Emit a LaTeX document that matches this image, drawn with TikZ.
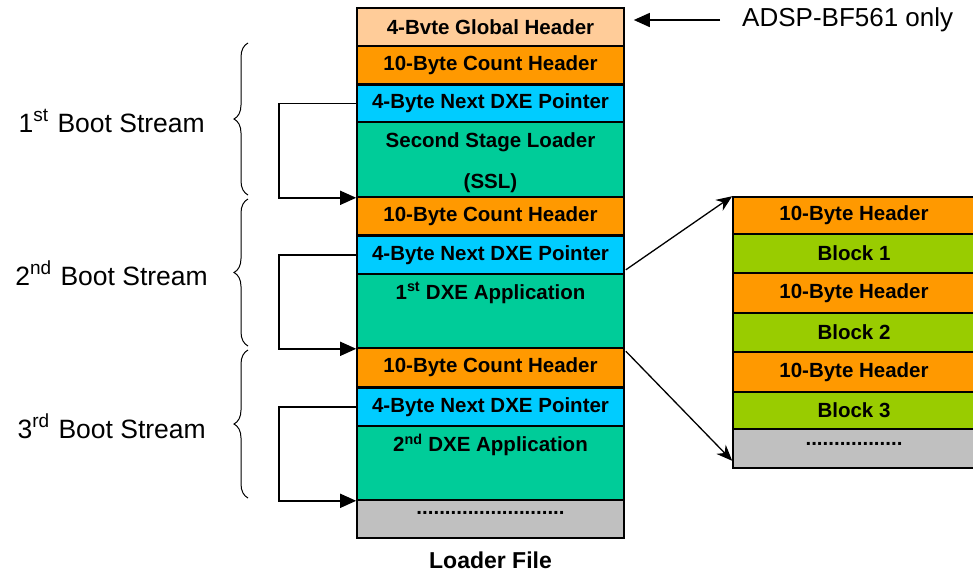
\documentclass[tikz,border=0pt]{standalone}
\usepackage{fontspec}
\setmainfont{Liberation Sans}
\usetikzlibrary{arrows.meta,decorations.pathreplacing,calc}
\definecolor{peach}{HTML}{FFCC99}
\definecolor{orng}{HTML}{FF9900}
\definecolor{cyn}{HTML}{00CCFF}
\definecolor{teal2}{HTML}{00CC99}
\definecolor{gry}{HTML}{C0C0C0}
\definecolor{lime2}{HTML}{99CC00}
\newcommand\mysup[1]{\raisebox{0.42em}{\fontsize{19}{19}\selectfont #1}\hspace{2pt}}
\begin{document}
\begin{tikzpicture}[x=1pt,y=-1pt,
  box/.style={draw=black, line width=1.6pt, inner sep=0pt, minimum width=267pt, font=\fontsize{20.5}{24}\selectfont\bfseries},
  rbox/.style={draw=black, line width=1.6pt, inner sep=0pt, minimum width=242pt, font=\fontsize{20.5}{24}\selectfont\bfseries},
  btxt/.style={inner sep=0pt, font=\fontsize{20.5}{24}\selectfont\bfseries},
  lbl/.style={inner sep=0pt, font=\fontsize{26.5}{30}\selectfont},
  conn/.style={line width=1.5pt, -{Triangle[length=16pt,width=14pt]}},
  thinarr/.style={line width=1.3pt, -{Stealth[length=16pt,width=13pt]}},
  brc/.style={line width=1pt, decorate, decoration={brace, amplitude=14pt}}]
\useasboundingbox (0,0) rectangle (973,574);
\fill[white] (0,0) rectangle (973,574);

% main column
\node[box, fill=peach, minimum height=38pt] (gh) at (490.5,27) {4-Bvte Global Header};
\node[box, fill=orng, minimum height=38pt] (ch1) at (490.5,65) {10-Byte Count Header};
\node[box, fill=cyn, minimum height=37pt] (p1) at (490.5,103.5) {4-Byte Next DXE Pointer};
\node[box, fill=teal2, minimum height=75pt] (ssl) at (490.5,159.5) {};
\node[btxt] (sslt1) at (490.5,142) {Second Stage Loader};
\node[btxt] (sslt2) at (490.5,183) {(SSL)};
\node[box, fill=orng, minimum height=38pt] (ch2) at (490.5,216) {10-Byte Count Header};
\node[box, fill=cyn, minimum height=38pt] (p2) at (490.5,255) {4-Byte Next DXE Pointer};
\node[box, fill=teal2, minimum height=74pt] (app1) at (490.5,311) {};
\node[btxt] (app1t) at (490.5,293) {1\textsuperscript{st} DXE Application};
\node[box, fill=orng, minimum height=39pt] (ch3) at (490.5,367.5) {10-Byte Count Header};
\node[box, fill=cyn, minimum height=38pt] (p3) at (490.5,407) {4-Byte Next DXE Pointer};
\node[box, fill=teal2, minimum height=74pt] (app2) at (490.5,463) {};
\node[btxt] (app2t) at (490.5,445) {2\textsuperscript{nd} DXE Application};
\node[box, fill=gry, minimum height=38pt] (gr) at (490.5,519) {};
\node[btxt] (grt) at (490.5,513) {..........................};
\node[inner sep=0pt, font=\fontsize{23}{27}\selectfont\bfseries] (lf) at (490.5,560) {Loader File};

% right column
\node[rbox, fill=orng, minimum height=37pt] (h1) at (854,215.5) {10-Byte Header};
\node[rbox, fill=lime2, minimum height=39pt] (b1) at (854,253.5) {Block 1};
\node[rbox, fill=orng, minimum height=40pt] (h2) at (854,293) {10-Byte Header};
\node[rbox, fill=lime2, minimum height=39pt] (b2) at (854,332.5) {Block 2};
\node[rbox, fill=orng, minimum height=40pt] (h3) at (854,372) {10-Byte Header};
\node[rbox, fill=lime2, minimum height=37pt] (b3) at (854,410.5) {Block 3};
\node[rbox, fill=gry, minimum height=39pt] (rg) at (854,448.5) {};
\node[btxt] (rgt) at (854,444) {.................};

% ADSP note
\node[lbl, font=\fontsize{26}{30}\selectfont, anchor=west] (adsp) at (742,20) {ADSP-BF561 only};
\draw[conn] (720,20) coordinate (adspstart) -- ($(gh.east)+(9,-7)$);

% loop connectors
\draw[conn] (p1.west) -- ++(-77,0) |- (ssl.south west);
\draw[conn] (p2.west) -- ++(-77,0) |- (app1.south west);
\draw[conn] (p3.west) -- ++(-77,0) |- (app2.south west);

% expansion arrows
\draw[thinarr] ($(p2.south east)+(1,-5)$) -- (h1.north west);
\draw[thinarr] ($(ch3.north east)+(1,4)$) -- ($(rg.south west)+(0,-8)$);

% braces
\coordinate (b1a) at (248,195); \coordinate (b1b) at (248,43);
\coordinate (b2a) at (248,346); \coordinate (b2b) at (248,199);
\coordinate (b3a) at (248,498); \coordinate (b3b) at (248,350);
\draw[brc] (b1a) -- (b1b);
\draw[brc] (b2a) -- (b2b);
\draw[brc] (b3a) -- (b3b);

% labels
\node[lbl, anchor=east] (bs1) at (205,121) {1\mysup{st} Boot Stream};
\node[lbl, anchor=east] (bs2) at (208,273) {2\mysup{nd} Boot Stream};
\node[lbl, anchor=east] (bs3) at (206,426) {3\mysup{rd} Boot Stream};
\end{tikzpicture}
\end{document}
